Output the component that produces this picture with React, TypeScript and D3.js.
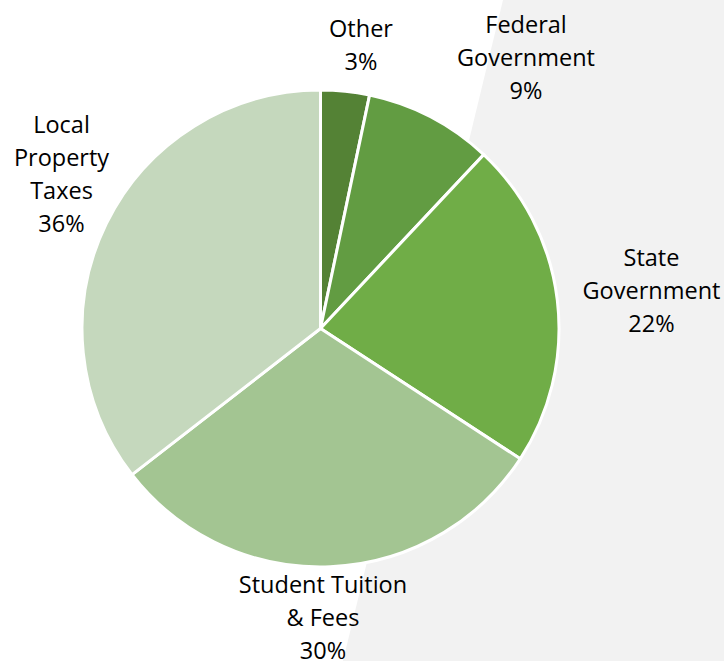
import { useEffect, useRef } from 'react';
import * as d3 from 'd3';

// slice order runs clockwise from 12 o'clock
const categories = ['Other', 'Federal Government', 'State Government', 'Student Tuition & Fees', 'Local Property Taxes'];
const shares = [3.3, 8.7, 22.2, 30.3, 35.5];
const labelLines = [
  ['Other'],
  ['Federal', 'Government'],
  ['State', 'Government'],
  ['Student Tuition', '& Fees'],
  ['Local', 'Property', 'Taxes'],
];
const sliceColors = ['#548235', '#629c42', '#70ad47', '#a3c592', '#c5d8bd'];

export default function App() {
  const ref = useRef<SVGSVGElement | null>(null);

  useEffect(() => {
    if (!ref.current) return;
    const svg = d3.select(ref.current);
    svg.selectAll('*').remove();

    const width = 724;
    const height = 661;
    const cx = 320.5;
    const cy = 328.5;
    const radius = 238.5;
    const lineH = 33;

    // light gray panel behind the right side
    svg.append('polygon')
      .attr('points', `503,0 ${width},0 ${width},${height} 343,${height}`)
      .attr('fill', '#f2f2f2');

    const data = categories.map((name, i) => ({ name, value: shares[i], i }));
    const pie = d3.pie<any>().value(d => d.value).sort(null);
    const arc = d3.arc<any>().innerRadius(0).outerRadius(radius);

    const g = svg.append('g').attr('transform', `translate(${cx},${cy})`);
    g.selectAll('path')
      .data(pie(data))
      .enter().append('path')
      .attr('d', arc)
      .attr('fill', d => sliceColors[d.data.i])
      .attr('stroke', '#ffffff')
      .attr('stroke-width', 3)
      .attr('stroke-linejoin', 'round');

    // label anchors: block centre x, first baseline y
    const labelPos = [
      [361, 36.5],
      [526, 32.5],
      [651.5, 265.5],
      [323, 592.5],
      [61.5, 132.5],
    ];

    data.forEach((d, i) => {
      const lines = [...labelLines[i], `${Math.round(d.value)}%`];
      const t = svg.append('text')
        .attr('text-anchor', 'middle')
        .attr('font-family', '"Open Sans", sans-serif')
        .attr('font-size', 23.5)
        .attr('fill', '#000000');
      lines.forEach((ln, k) => {
        t.append('tspan')
          .attr('x', labelPos[i][0])
          .attr('y', labelPos[i][1] + k * lineH)
          .text(ln);
      });
    });
  }, []);

  return (
    <svg
      ref={ref}
      width={724}
      height={661}
      style={{ position: 'absolute', left: 0, top: 0, display: 'block' }}
    />
  );
}
